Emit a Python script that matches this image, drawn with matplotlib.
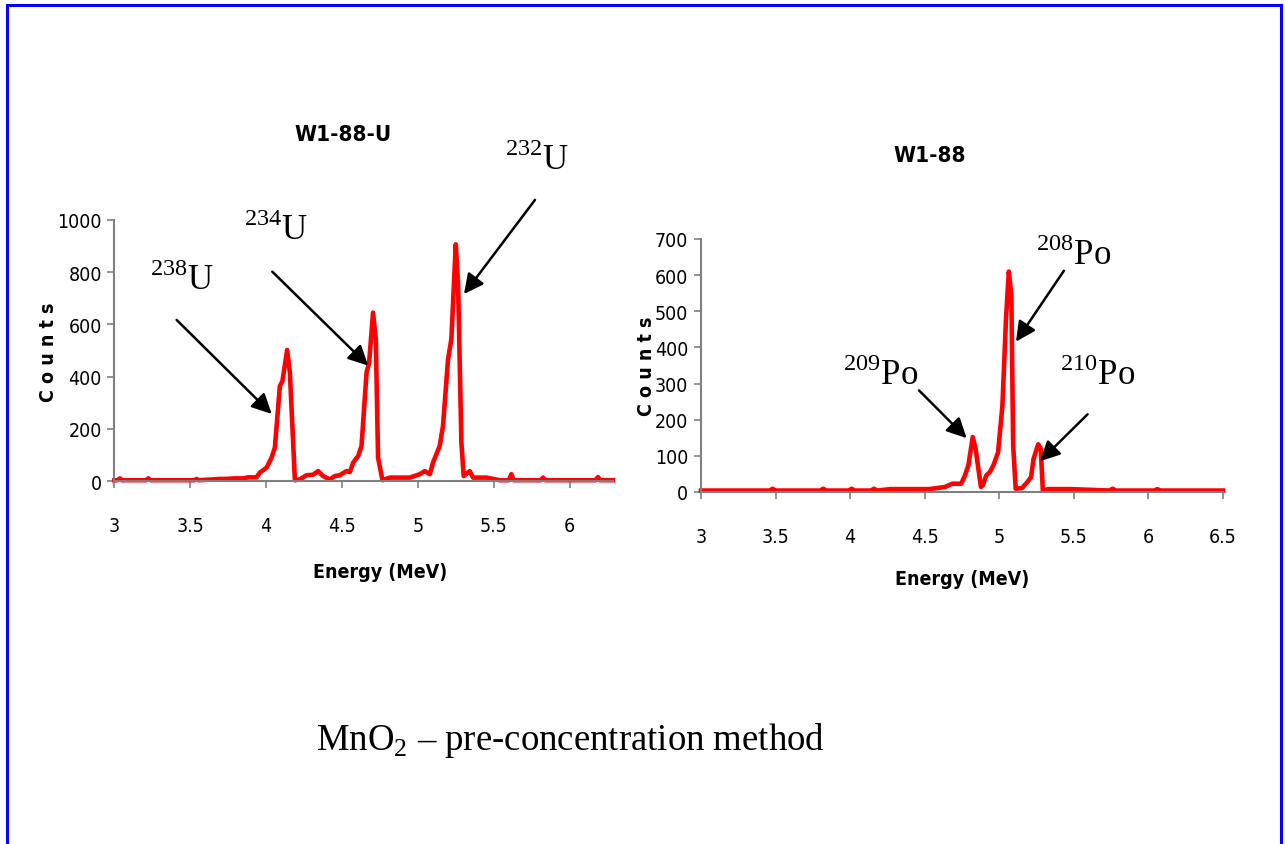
import matplotlib
matplotlib.use("Agg")
import matplotlib.pyplot as plt
from matplotlib.lines import Line2D

# Alpha spectrum of the uranium fraction (W1-88-U)
u_energy = [3.00, 3.02, 3.037, 3.05, 3.21, 3.224, 3.24, 3.53, 3.542, 3.555, 3.652, 3.696,
            3.74, 3.795, 3.85, 3.882, 3.937, 3.959, 4.003, 4.036, 4.058, 4.091, 4.108,
            4.139, 4.157, 4.19, 4.222, 4.266, 4.31, 4.343, 4.376, 4.42, 4.453, 4.486,
            4.53, 4.552, 4.574, 4.607, 4.629, 4.662, 4.679, 4.705, 4.723, 4.738, 4.767,
            4.815, 4.881, 4.947, 5.013, 5.046, 5.079, 5.10, 5.144, 5.166, 5.199, 5.221,
            5.25, 5.265, 5.287, 5.302, 5.342, 5.364, 5.452, 5.54, 5.60, 5.616, 5.632,
            5.649, 5.81, 5.825, 5.84, 6.17, 6.187, 6.20, 6.286]
u_counts = [3, 3, 10, 3, 3, 10, 3, 3, 8, 3, 6, 8,
            8, 10, 10, 14, 14, 32, 51, 89, 128, 364, 383,
            502, 415, 3, 6, 22, 24, 38, 19, 6, 19, 22,
            38, 34, 70, 96, 134, 415, 453, 645, 543, 89, 3,
            13, 13, 13, 26, 38, 26, 70, 134, 211, 466, 543,
            907, 760, 147, 19, 38, 13, 13, 3, 3, 26, 3,
            3, 3, 13, 3, 3, 15, 3, 3]

# Alpha spectrum of the polonium fraction (W1-88)
po_energy = [3.00, 3.46, 3.48, 3.50, 3.80, 3.82, 3.84, 3.99, 4.01, 4.03, 4.14, 4.16, 4.18,
             4.27, 4.35, 4.45, 4.53, 4.637, 4.685, 4.745, 4.77, 4.793, 4.822, 4.841,
             4.877, 4.889, 4.913, 4.937, 4.961, 4.992, 5.021, 5.045, 5.064, 5.081,
             5.093, 5.11, 5.153, 5.189, 5.213, 5.23, 5.261, 5.278, 5.292, 5.33, 5.43,
             5.48, 5.74, 5.76, 5.78, 6.04, 6.06, 6.08, 6.50]
po_counts = [4, 4, 9, 4, 4, 9, 4, 4, 9, 4, 4, 9, 4,
             8, 8, 8, 8, 14, 23, 23, 46, 74, 152, 120,
             14, 18, 46, 55, 74, 110, 239, 479, 610, 543,
             129, 9, 11, 28, 41, 92, 132, 120, 5, 8, 8,
             8, 4, 9, 4, 4, 8, 4, 4]

u_ticks_y = [0, 200, 400, 600, 800, 1000]
po_ticks_y = [0, 100, 200, 300, 400, 500, 600, 700]
u_ticks_x = [3, 3.5, 4, 4.5, 5, 5.5, 6]
po_ticks_x = [3, 3.5, 4, 4.5, 5, 5.5, 6, 6.5]

NARROW = dict(family="DejaVu Sans", stretch="condensed")
SERIF = ["Liberation Serif", "DejaVu Serif"]
plt.rcParams["mathtext.fontset"] = "custom"
plt.rcParams["mathtext.rm"] = "Liberation Serif"

W, H = 1285, 845
fig = plt.figure(figsize=(W / 100, H / 100), dpi=100)


def fx(px):
    return px / W


def fy(py):
    return 1 - py / H


def style_axes(ax, xticks, yticks):
    for side in ("top", "right"):
        ax.spines[side].set_visible(False)
    for side in ("left", "bottom"):
        ax.spines[side].set_color("#7f7f7f")
        ax.spines[side].set_linewidth(1.5)
    ax.set_xticks(xticks)
    ax.set_yticks(yticks)
    ax.set_xticklabels([f"{t:g}" for t in xticks], fontsize=14, **NARROW)
    ax.set_yticklabels([f"{t:g}" for t in yticks], fontsize=14, **NARROW)
    ax.tick_params(axis="both", direction="out", length=5, width=1.2, color="#7f7f7f")
    ax.tick_params(axis="x", pad=20)
    ax.tick_params(axis="y", pad=4)
    ax.patch.set_visible(False)


def label_arrow(ax, text, txt_xy, tail, tip):
    ax.text(*txt_xy, text, family=SERIF, fontsize=25, ha="left", va="baseline",
            clip_on=False)
    ax.annotate("", xy=tip, xytext=tail, annotation_clip=False,
                arrowprops=dict(arrowstyle="-|>", color="black", lw=1.8,
                                mutation_scale=30, shrinkA=0, shrinkB=0))


# left panel: uranium
ax1 = fig.add_axes([fx(114.3), fy(482), (613 - 114.3) / W, 261 / H])
ax1.plot(u_energy, u_counts, color="#ff0000", lw=3.3, solid_joinstyle="round", clip_on=False)
ax1.set_xlim(3, 6.286)
ax1.set_ylim(0, 1000)
style_axes(ax1, u_ticks_x, u_ticks_y)
label_arrow(ax1, r"$^{238}$U", (3.235, 736), (3.411, 617), (4.037, 257))
label_arrow(ax1, r"$^{234}$U", (3.854, 927), (4.041, 802), (4.673, 442))
label_arrow(ax1, r"$^{232}$U", (5.574, 1195), (5.772, 1077), (5.304, 716))

# right panel: polonium
ax2 = fig.add_axes([fx(701), fy(493), 522 / W, 253 / H])
ax2.plot(po_energy, po_counts, color="#ff0000", lw=3.3, solid_joinstyle="round", clip_on=False)
ax2.set_xlim(3, 6.5)
ax2.set_ylim(0, 700)
style_axes(ax2, po_ticks_x, po_ticks_y)
label_arrow(ax2, r"$^{208}$Po", (5.243, 631), (5.433, 612), (5.112, 416))
label_arrow(ax2, r"$^{209}$Po", (3.954, 300), (4.462, 281), (4.781, 149))
label_arrow(ax2, r"$^{210}$Po", (5.405, 300), (5.592, 215), (5.273, 85))

# titles and axis labels
fig.text(fx(343), fy(135), "W1-88-U", fontsize=16, weight="bold",
         ha="center", va="center", **NARROW)
fig.text(fx(930), fy(156), "W1-88", fontsize=16, weight="bold",
         ha="center", va="center", **NARROW)
fig.text(fx(380), fy(572), "Energy (MeV)", fontsize=14, weight="bold",
         ha="center", va="center", **NARROW)
fig.text(fx(962), fy(580), "Energy (MeV)", fontsize=14, weight="bold",
         ha="center", va="center", **NARROW)
fig.text(fx(49), fy(352), "C o u n t s", fontsize=14, weight="bold",
         rotation=90, ha="center", va="center", **NARROW)
fig.text(fx(647), fy(366), "C o u n t s", fontsize=14, weight="bold",
         rotation=90, ha="center", va="center", **NARROW)

fig.text(fx(316), fy(750), "MnO$_2$ \u2013 pre-concentration method", family=SERIF,
         fontsize=26.5, ha="left", va="baseline")

# blue frame, open at the bottom
for xs, ys in (([7, 7], [845, 6]), ([7, 1281], [6, 6]), ([1281, 1281], [6, 845])):
    fig.add_artist(Line2D([fx(x) for x in xs], [fy(y) for y in ys], color="#0000ff", lw=2.2))

fig.savefig("out.png", dpi=100)
